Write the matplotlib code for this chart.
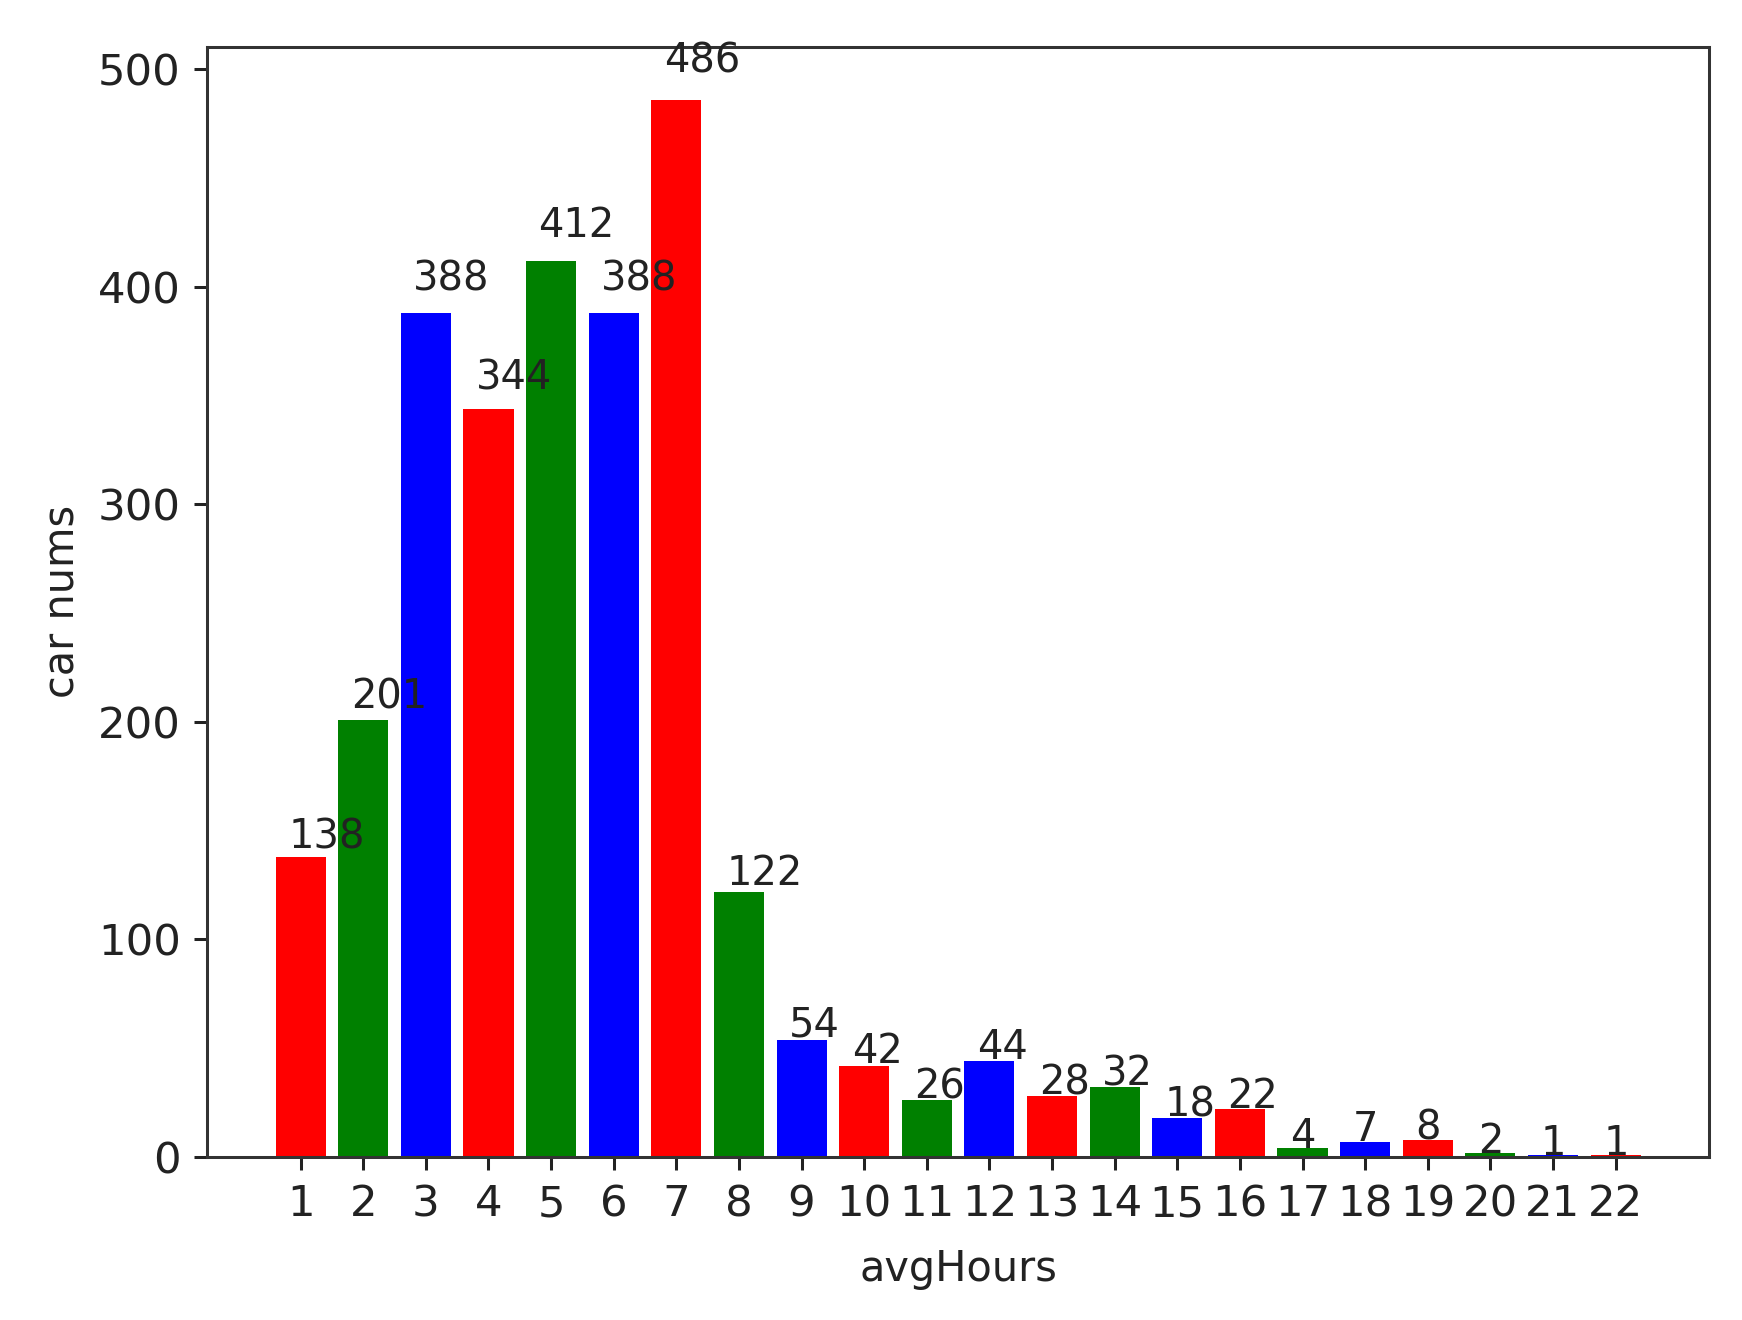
import matplotlib
matplotlib.use('Agg')
import matplotlib.pyplot as plt

hours = list(range(1, 23))
car_nums = [138, 201, 388, 344, 412, 388, 486, 122, 54, 42, 26, 44, 28, 32, 18, 22, 4, 7, 8, 2, 1, 1]
bar_colors = ['red', 'green', 'blue']

fig = plt.figure(figsize=(1742 / 272, 1320 / 272), dpi=272)
ax = fig.add_axes([0.119, 0.1235, 0.862, 0.841])

colors = [bar_colors[i % 3] for i in range(len(hours))]
ax.bar(hours, car_nums, color=colors)

for x, y in zip(hours, car_nums):
    ax.text(x - 0.2, y * 1.026, str(y), fontsize=10.6, color='#222222')

ax.set_xticks(hours)
ax.tick_params(labelsize=11.5, colors='#222222')
for s in ax.spines.values():
    s.set_color('#333333')
ax.set_xlabel('avgHours', fontsize=11, color='#222222', labelpad=6)
ax.set_ylabel('car nums', fontsize=11, color='#222222')

fig.savefig('out.png', dpi=272)
